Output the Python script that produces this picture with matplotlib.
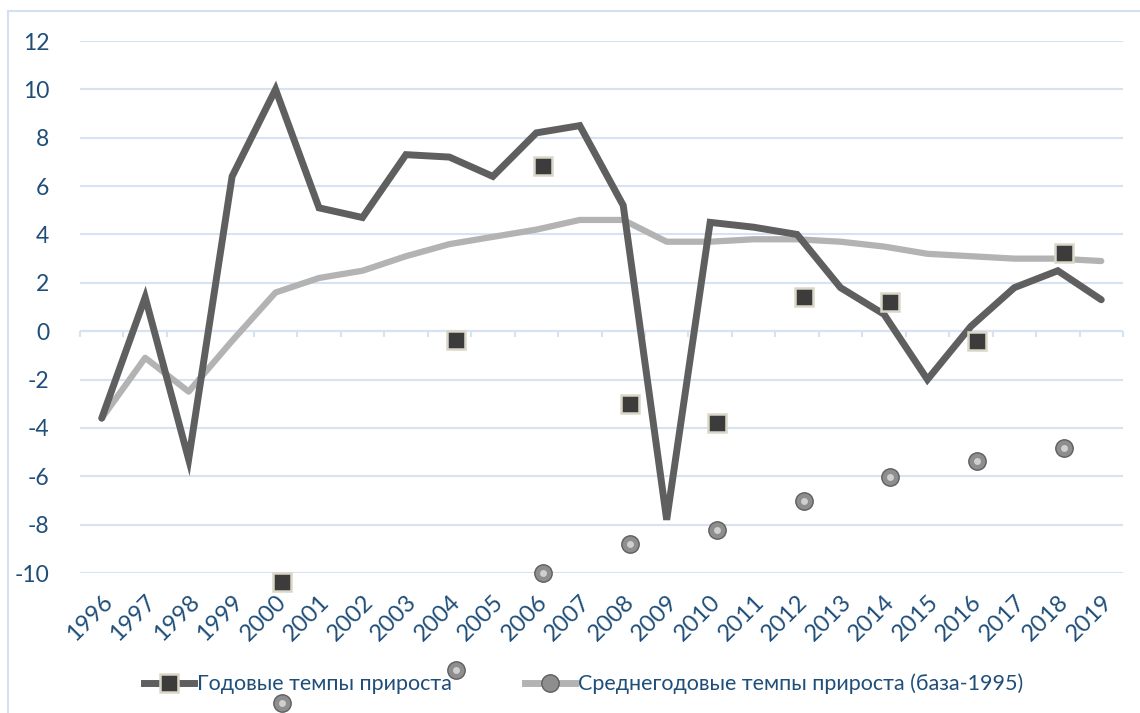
import numpy as np
import matplotlib
matplotlib.use('Agg')
import matplotlib.pyplot as plt
from matplotlib.lines import Line2D
from matplotlib.patches import Rectangle

plt.rcParams['font.family'] = ['Lato', 'Open Sans', 'DejaVu Sans']
plt.rcParams['axes.unicode_minus'] = False

# ===================== данные =====================
years = list(range(1996, 2020))
annual = [-3.6, 1.4, -5.3, 6.4, 10.0, 5.1, 4.7, 7.3, 7.2, 6.4, 8.2, 8.5,
          5.2, -7.8, 4.5, 4.3, 4.0, 1.8, 0.7, -2.0, 0.2, 1.8, 2.5, 1.3]
average = [-3.6, -1.1, -2.5, -0.4, 1.6, 2.2, 2.5, 3.1, 3.6, 3.9, 4.2, 4.6,
           4.6, 3.7, 3.7, 3.8, 3.8, 3.7, 3.5, 3.2, 3.1, 3.0, 3.0, 2.9]

# "плавающие" маркеры, как на исходной картинке
sq_years = [2000.15, 2004.15, 2006.15, 2008.15, 2010.15, 2012.15, 2014.15, 2016.15, 2018.15]
sq_vals = [-10.37, -0.37, 6.83, -3.01, -3.8, 1.41, 1.21, -0.4, 3.23]
ball_years = [2000.15, 2004.15, 2006.15, 2008.15, 2010.15, 2012.15, 2014.15, 2016.15, 2018.15]
ball_vals = [-15.38, -14.0, -10.0, -8.8, -8.22, -7.02, -6.02, -5.37, -4.82]

label1 = 'Годовые темпы прироста'
label2 = 'Среднегодовые темпы прироста (база-1995)'

TXT = '#1F4E79'
GRID = '#D6E3F3'
DARK = '#5F5F5F'
LIGHT = '#B3B3B3'

sq_style = dict(marker='s', ms=12.5, mfc='#3C3C3C', mec='#DAD6C8', mew=1.8)
ball_style = dict(marker='o', ms=12.5, mfc='#8E8E8E', mec='#5E5E5E', mew=1.0)

fig = plt.figure(figsize=(11.4, 7.13), dpi=100)
W, H = 1140, 713
ax = fig.add_axes([80 / W, 1 - 573 / H, (1123 - 80) / W, (573 - 41) / H])

# рамка области диаграммы
fig.patches.append(Rectangle((8 / W, -0.1), 1.2, 1 - 11 / H + 0.1, transform=fig.transFigure,
                             fill=False, edgecolor='#D2E0F2', lw=1.5))

x = np.array(years)
ax.set_xlim(x[0] - 0.5, x[-1] + 0.5)
ax.set_ylim(-10, 12)
ax.set_yticks(np.arange(-10, 13, 2))
ax.yaxis.grid(True, color=GRID, lw=1.5)
ax.set_axisbelow(True)
for s in ax.spines.values():
    s.set_visible(False)

# ось X по нулю с засечками между категориями
ax.axhline(0, color=GRID, lw=1.5, zorder=1)
bounds = np.arange(x[0] - 0.5, x[-1] + 1.0, 1.0)
ax.vlines(bounds, -0.25, 0, color=GRID, lw=1.5, zorder=1, clip_on=False)

ax.plot(x, average, color=LIGHT, lw=4.5, solid_joinstyle='round', solid_capstyle='round', zorder=3)
ax.plot(x, annual, color=DARK, lw=5, solid_joinstyle='miter', solid_capstyle='round', zorder=4)

ax.plot(sq_years, sq_vals, ls='none', zorder=6, clip_on=False, **sq_style)
ax.plot(ball_years, ball_vals, ls='none', zorder=6, clip_on=False, **ball_style)
ax.plot(ball_years, ball_vals, ls='none', marker='o', ms=5, mfc='#CFCFCF', mec='none',
        zorder=7, clip_on=False)

ax.set_xticks(x)
ax.set_xticklabels([str(y) for y in years], rotation=45, ha='right', va='top',
                   rotation_mode='anchor')
ax.tick_params(axis='x', length=0, pad=13, labelsize=17, labelcolor=TXT)
ax.tick_params(axis='y', length=0, pad=22, labelsize=16.5, labelcolor=TXT)

handles = [
    Line2D([], [], color=DARK, lw=5, **sq_style),
    Line2D([], [], color=LIGHT, lw=5, **ball_style),
]
leg = fig.legend(handles, [label1, label2], loc='center', bbox_to_anchor=(0.512, 1 - 684 / H),
                 ncol=2, frameon=False, fontsize=15.5, handlelength=2.3, handletextpad=0.15,
                 columnspacing=3.4, numpoints=1)
for t in leg.get_texts():
    t.set_color(TXT)

plt.savefig('out.png', dpi=100)
plt.close()
